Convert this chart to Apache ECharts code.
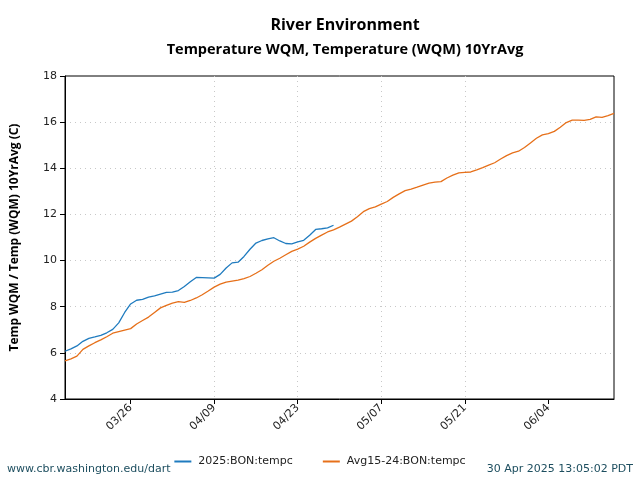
<!DOCTYPE html>
<html>
<head>
<meta charset="utf-8">
<script src="https://cdn.jsdelivr.net/npm/echarts@6/dist/echarts.min.js"></script>
<style>html,body{margin:0;padding:0;background:#fff}#c{width:640px;height:480px}</style>
</head>
<body>
<div id="c"></div>
<script>
// Dates 2025-03-15 .. 2025-06-15
var startDate = new Date(2025, 2, 15);
var categories = [];
for (var i = 0; i <= 92; i++) {
  var d = new Date(startDate.getTime() + i * 86400000);
  var mm = String(d.getMonth() + 1).padStart(2, '0');
  var dd = String(d.getDate()).padStart(2, '0');
  categories.push(mm + '/' + dd);
}
var tickLabels = ['03/26', '04/09', '04/23', '05/07', '05/21', '06/04'];

var temp2025 = [6.07, 6.17, 6.30, 6.50, 6.63, 6.69, 6.76, 6.87, 7.02, 7.30,
  7.75, 8.12, 8.28, 8.32, 8.42, 8.47, 8.55, 8.62, 8.63, 8.70,
  8.88, 9.08, 9.27, 9.26, 9.25, 9.24, 9.40, 9.68, 9.90, 9.93,
  10.18, 10.49, 10.76, 10.87, 10.94, 10.99, 10.85, 10.74, 10.72, 10.81,
  10.88, 11.10, 11.35, 11.38, 11.42, 11.53];

var avg15_24 = [5.65, 5.74, 5.86, 6.15, 6.30, 6.44, 6.56, 6.70, 6.85, 6.92,
  6.99, 7.05, 7.25, 7.40, 7.55, 7.75, 7.95, 8.06, 8.16, 8.22,
  8.19, 8.27, 8.38, 8.52, 8.68, 8.85, 8.98, 9.07, 9.11, 9.15,
  9.22, 9.31, 9.45, 9.60, 9.80, 9.97, 10.10, 10.25, 10.40, 10.50,
  10.62, 10.80, 10.96, 11.10, 11.24, 11.33, 11.45, 11.58, 11.71, 11.90,
  12.12, 12.25, 12.33, 12.45, 12.56, 12.74, 12.89, 13.03, 13.10, 13.18,
  13.27, 13.36, 13.40, 13.42, 13.58, 13.70, 13.80, 13.82, 13.84, 13.93,
  14.03, 14.14, 14.24, 14.40, 14.55, 14.67, 14.74, 14.90, 15.10, 15.30,
  15.45, 15.50, 15.60, 15.78, 15.98, 16.09, 16.09, 16.08, 16.12, 16.23,
  16.21, 16.28, 16.38];

var seriesNames = ['2025:BON:tempc', 'Avg15-24:BON:tempc'];

function isTick(idx, val) { return tickLabels.indexOf(val) >= 0; }

var chart = echarts.init(document.getElementById('c'), null, {renderer: 'canvas'});
chart.setOption({
  animation: false,
  backgroundColor: '#fff',
  title: [
    {text: 'River Environment', left: 340, textAlign: 'center', top: 12,
     textStyle: {fontFamily: 'Open Sans', fontWeight: 'bold', fontSize: 16, color: '#000'}},
    {text: 'Temperature WQM, Temperature (WQM) 10YrAvg', left: 340, textAlign: 'center', top: 37,
     textStyle: {fontFamily: 'Open Sans', fontWeight: 'bold', fontSize: 14.5, color: '#000'}}
  ],
  grid: {left: 65, right: 26, top: 76, bottom: 81, show: true, borderColor: '#000', borderWidth: 1, containLabel: false},
  legend: {
    data: seriesNames, top: 451, left: 'center', icon: 'rect', itemWidth: 17, itemHeight: 2, itemGap: 30,
    textStyle: {fontFamily: 'DejaVu Sans', fontSize: 11, color: '#222', padding: [0, 0, 0, 2]}
  },
  xAxis: {
    type: 'category', data: categories, boundaryGap: false,
    axisLine: {lineStyle: {color: '#000', width: 1}},
    axisTick: {show: true, interval: isTick, length: 5, lineStyle: {color: '#000'}},
    axisLabel: {interval: isTick, rotate: 45, fontFamily: 'DejaVu Sans', fontSize: 11, color: '#222', margin: 7},
    splitLine: {show: true, interval: isTick, showMinLine: false, showMaxLine: false, lineStyle: {color: '#c8c8c8', type: [1, 4], width: 1}}
  },
  yAxis: {
    type: 'value', min: 4, max: 18, interval: 2,
    name: 'Temp WQM / Temp (WQM) 10YrAvg (C)', nameLocation: 'middle', nameGap: 44,
    nameTextStyle: {fontFamily: 'Open Sans', fontWeight: 'bold', fontSize: 12, color: '#000'},
    axisLine: {show: true, lineStyle: {color: '#000', width: 1}},
    axisTick: {show: true, length: 5, lineStyle: {color: '#000'}},
    axisLabel: {fontFamily: 'DejaVu Sans', fontSize: 11, color: '#222', margin: 8},
    splitLine: {show: true, showMinLine: false, showMaxLine: false, lineStyle: {color: '#c8c8c8', type: [1, 4], width: 1}}
  },
  series: [
    {name: seriesNames[0], type: 'line', data: temp2025, symbol: 'none', smooth: false,
     lineStyle: {color: '#1f7bbf', width: 1.3}, itemStyle: {color: '#1f7bbf'}},
    {name: seriesNames[1], type: 'line', data: avg15_24, symbol: 'none', smooth: false,
     lineStyle: {color: '#e6701a', width: 1.3}, itemStyle: {color: '#e6701a'}}
  ],
  graphic: [
    {type: 'text', left: 7, top: 464, style: {text: 'www.cbr.washington.edu/dart', fontFamily: 'DejaVu Sans', fontSize: 11, fill: '#1d4e5f'}},
    {type: 'text', right: 7, top: 464, style: {text: '30 Apr 2025 13:05:02 PDT', fontFamily: 'DejaVu Sans', fontSize: 11, fill: '#1d4e5f'}}
  ]
});
</script>
</body>
</html>
